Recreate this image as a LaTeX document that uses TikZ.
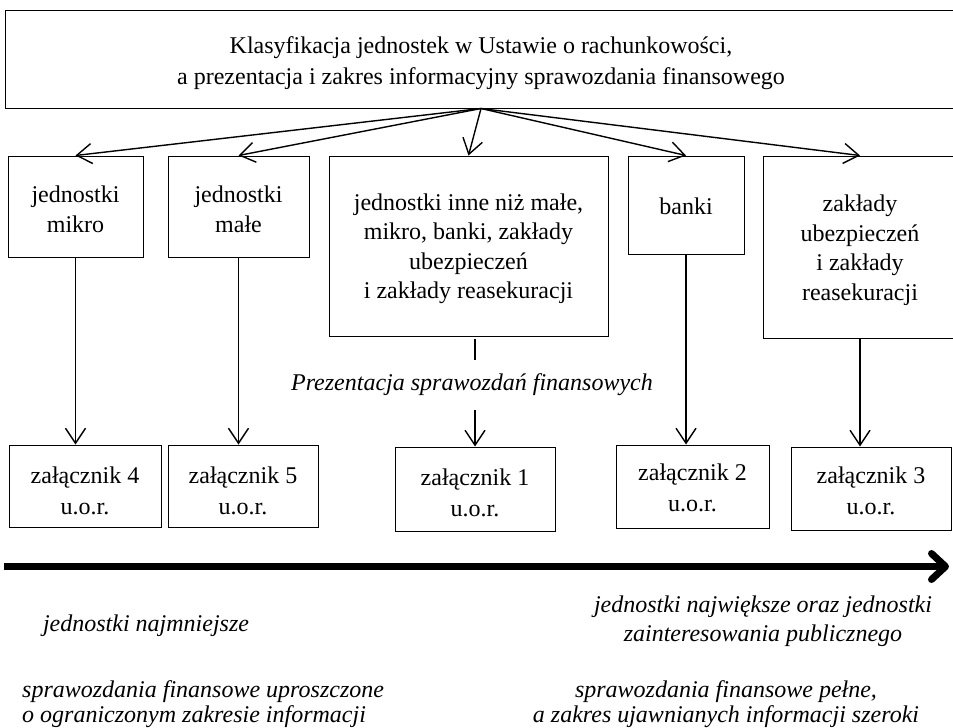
\documentclass[tikz,border=0pt]{standalone}
\usepackage{fontspec}
\setmainfont{Liberation Serif}
\usetikzlibrary{arrows.meta}

\tikzset{
  box/.style={draw, line width=1pt, inner sep=0pt},
  boxtext/.style={inner sep=0pt, align=center, font=\fontsize{24}{29.5}\selectfont},
  lowtext/.style={boxtext, font=\fontsize{24}{31}\selectfont},
  conn/.style={line width=1.4pt, -{Straight Barb[length=15pt,width=20pt,line width=1.4pt]}},
  plain/.style={line width=1.4pt},
  note/.style={inner sep=0pt, font=\fontsize{24}{29}\selectfont\itshape},
  axis/.style={line width=7pt, -{Straight Barb[length=14pt,width=26pt,line width=7pt,round]}}
}

\begin{document}
\begin{tikzpicture}[x=1pt, y=-1pt]
  \useasboundingbox (0,0) rectangle (953,728);

  % heading box
  \node[box, minimum width=952pt, minimum height=98pt] (top) at (481,59) {};
  \node[boxtext, font=\fontsize{24}{31}\selectfont] (topT) at ([yshift=-4pt]top.center)
    {Klasyfikacja jednostek w Ustawie o rachunkowości,\\
     a prezentacja i zakres informacyjny sprawozdania finansowego};

  % classes of entities
  \node[box, minimum width=135pt, minimum height=101pt] (mikro) at (75.5,206.5) {};
  \node[boxtext] (mikroT) at ([yshift=-3pt]mikro.center) {jednostki\\mikro};
  \node[box, minimum width=141pt, minimum height=101pt] (male) at (238.5,206.5) {};
  \node[boxtext] (maleT) at ([yshift=-3pt]male.center) {jednostki\\małe};
  \node[box, minimum width=279pt, minimum height=180pt] (inne) at (468.5,246) {};
  \node[boxtext] (inneT) at ([yshift=-3pt]inne.center)
    {jednostki inne niż małe,\\mikro, banki, zakłady\\ubezpieczeń\\i zakłady reasekuracji};
  \node[box, minimum width=116pt, minimum height=98pt] (banki) at (686,205) {};
  \node[boxtext] (bankiT) at ([yshift=-1pt]banki.center) {banki};
  \node[box, minimum width=194pt, minimum height=182pt] (zakl) at (860,247) {};
  \node[boxtext] (zaklT) at ([yshift=-3pt]zakl.center)
    {zakłady\\ubezpieczeń\\i zakłady\\reasekuracji};

  % annexes of the accounting act
  \node[box, minimum width=152pt, minimum height=82pt] (z4) at (85,486) {};
  \node[lowtext] (z4T) at ([yshift=-5pt]z4.center) {załącznik 4\\u.o.r.};
  \node[box, minimum width=150pt, minimum height=82pt] (z5) at (243,486) {};
  \node[lowtext] (z5T) at ([yshift=-5pt]z5.center) {załącznik 5\\u.o.r.};
  \node[box, minimum width=160pt, minimum height=84pt] (z1) at (475,489) {};
  \node[lowtext] (z1T) at ([yshift=-4pt]z1.center) {załącznik 1\\u.o.r.};
  \node[box, minimum width=153pt, minimum height=83pt] (z2) at (692.5,486.5) {};
  \node[lowtext] (z2T) at ([yshift=-1pt]z2.center) {załącznik 2\\u.o.r.};
  \node[box, minimum width=160pt, minimum height=83pt] (z3) at (871,488.5) {};
  \node[lowtext] (z3T) at ([yshift=-2pt]z3.center) {załącznik 3\\u.o.r.};

  \node[note, minimum height=50pt] (pres) at (472,385)
    {Prezentacja sprawozdań finansowych};

  % fan-out from the heading
  \foreach \t in {mikro, male, inne, banki, zakl}
    \draw[conn] (top.south) -- (\t.north);

  % classes to annexes
  \draw[conn] (mikro.south) -- (mikro.south |- z4.north);
  \draw[conn] (male.south) -- (male.south |- z5.north);
  \draw[conn] (banki.south) -- (banki.south |- z2.north);
  \draw[conn] (zakl.south) -- (zakl.south |- z3.north);
  \draw[plain] ([yshift=-2pt]z1.north |- inne.south) -- (z1.north |- pres.north);
  \draw[conn] (z1.north |- pres.south) -- (z1.north);

  % scale of entity size
  \coordinate (axL) at (4,566.5);
  \coordinate (axR) at (949,566.5);
  \draw[axis] (axL) -- (axR);

  \node[note] (small) at (146,626) {jednostki najmniejsze};
  \node[note, align=center] (large) at (763,621)
    {jednostki największe oraz jednostki\\zainteresowania publicznego};
  \node[note, align=left, anchor=west, font=\fontsize{24}{25}\selectfont\itshape] (simple) at (22,704)
    {sprawozdania finansowe uproszczone\\o ograniczonym zakresie informacji};
  \node[note, align=center, font=\fontsize{24}{25}\selectfont\itshape] (full) at (726,704)
    {sprawozdania finansowe pełne,\\a zakres ujawnianych informacji szeroki};
\end{tikzpicture}
\end{document}
